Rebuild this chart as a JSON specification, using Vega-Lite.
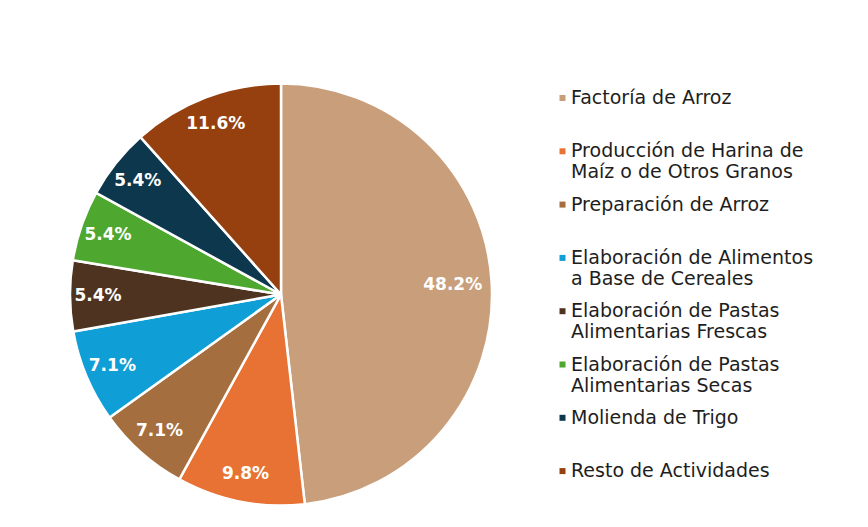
{
  "$schema": "https://vega.github.io/schema/vega-lite/v6.json",
  "autosize": "none",
  "width": 562,
  "height": 465,
  "padding": {"left": 0, "top": 62, "right": 306, "bottom": 0},
  "background": "white",
  "data": {
    "values": [
      {"orden": 1, "actividad": "Factoría de Arroz", "porcentaje": 0.482},
      {"orden": 2, "actividad": "Producción de Harina de Maíz o de Otros Granos", "porcentaje": 0.098},
      {"orden": 3, "actividad": "Preparación de Arroz", "porcentaje": 0.071},
      {"orden": 4, "actividad": "Elaboración de Alimentos a Base de Cereales", "porcentaje": 0.071},
      {"orden": 5, "actividad": "Elaboración de Pastas Alimentarias Frescas", "porcentaje": 0.054},
      {"orden": 6, "actividad": "Elaboración de Pastas Alimentarias Secas", "porcentaje": 0.054},
      {"orden": 7, "actividad": "Molienda de Trigo", "porcentaje": 0.054},
      {"orden": 8, "actividad": "Resto de Actividades", "porcentaje": 0.116}
    ]
  },
  "encoding": {
    "theta": {"field": "porcentaje", "type": "quantitative", "stack": true},
    "order": {"field": "orden", "type": "quantitative"}
  },
  "layer": [
    {
      "mark": {"type": "arc", "outerRadius": 211, "stroke": "white", "strokeWidth": 2.5},
      "encoding": {
        "color": {
          "field": "actividad",
          "type": "nominal",
          "scale": {
            "domain": [
              "Factoría de Arroz",
              "Producción de Harina de Maíz o de Otros Granos",
              "Preparación de Arroz",
              "Elaboración de Alimentos a Base de Cereales",
              "Elaboración de Pastas Alimentarias Frescas",
              "Elaboración de Pastas Alimentarias Secas",
              "Molienda de Trigo",
              "Resto de Actividades"
            ],
            "range": ["#C99E7B", "#E87234", "#A56E3E", "#0F9ED5", "#4E3420", "#4EA72E", "#0D374C", "#96400F"]
          },
          "legend": {
            "title": null,
            "orient": "none",
            "legendX": 553,
            "legendY": 26.5,
            "symbolType": "square",
            "symbolSize": 36,
            "symbolStrokeWidth": 0,
            "labelFont": "DejaVu Sans",
            "labelFontSize": 19,
            "labelColor": "#1e1e1e",
            "labelBaseline": "middle",
            "labelOffset": -1,
            "labelLimit": 400,
            "rowPadding": 12.3,
            "labelExpr": "datum.label == 'Producción de Harina de Maíz o de Otros Granos' ? ['Producción de Harina de', 'Maíz o de Otros Granos'] : datum.label == 'Elaboración de Alimentos a Base de Cereales' ? ['Elaboración de Alimentos', 'a Base de Cereales'] : datum.label == 'Elaboración de Pastas Alimentarias Frescas' ? ['Elaboración de Pastas', 'Alimentarias Frescas'] : datum.label == 'Elaboración de Pastas Alimentarias Secas' ? ['Elaboración de Pastas', 'Alimentarias Secas'] : [datum.label, '']",
            "encode": {
              "labels": {"lineHeight": {"value": 20}}
            }
          }
        }
      }
    },
    {
      "mark": {"type": "text", "radius": {"expr": "datum.porcentaje > 0.4 ? 172 : 183"}, "font": "DejaVu Sans", "fontWeight": "bold", "fontSize": 17, "color": "white"},
      "encoding": {
        "detail": {"field": "actividad", "type": "nominal"},
        "text": {"field": "porcentaje", "type": "quantitative", "format": ".1%"}
      }
    }
  ],
  "config": {"view": {"stroke": null}}
}
